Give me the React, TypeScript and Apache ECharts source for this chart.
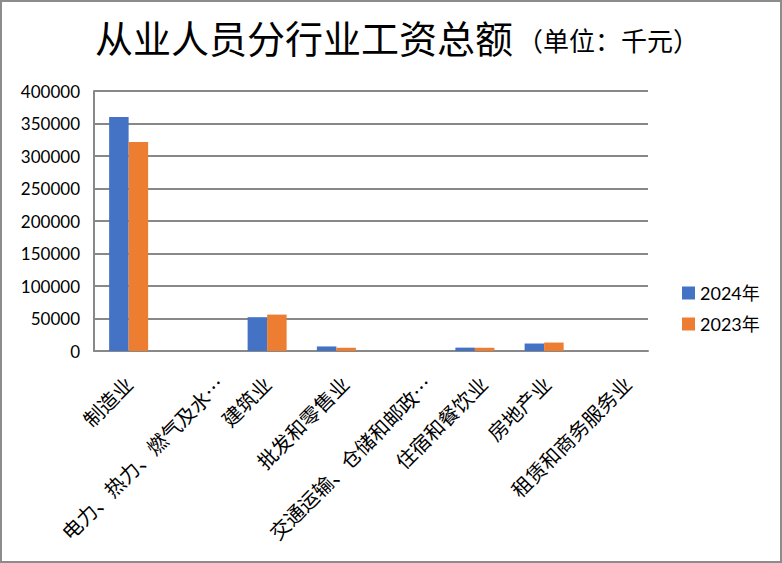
import { useEffect, useRef } from 'react';
import * as echarts from 'echarts';

const categories = [
  '制造业',
  '电力、热力、燃气及水生产和供应业',
  '建筑业',
  '批发和零售业',
  '交通运输、仓储和邮政业',
  '住宿和餐饮业',
  '房地产业',
  '租赁和商务服务业',
];
const values2024 = [360000, 0, 52000, 7000, 0, 5200, 11500, 0];
const values2023 = [321500, 0, 56000, 5000, 0, 5000, 13000, 0];
const yTicks = { min: 0, max: 400000, interval: 50000 };

const CJK = '"Noto Sans CJK SC", sans-serif';
const NUM = 'Lato, "Noto Sans CJK SC", sans-serif';

// Excel nudges longer rotated labels to the right; mimic that with padding per label length
const labelRich: Record<string, any> = {};
for (let n = 1; n <= 12; n++) {
  const shift = 2.8 * (n - 3);
  const common = 24;
  labelRich['r' + n] = {
    fontFamily: CJK,
    fontSize: 20,
    color: '#000',
    padding: [Math.max(0, (shift + common) / 0.708), Math.max(0, (common - shift) / 1.414), 0, 0],
  };
}

export default function App() {
  const chartRef = useRef<HTMLDivElement>(null);

  useEffect(() => {
    if (!chartRef.current) return;
    const chart = echarts.init(chartRef.current, undefined, { renderer: 'svg' });

    const option = {
      animation: false,
      backgroundColor: '#fff',
      title: {
        text: '{a|从业人员分行业工资总额}{b|（单位：千元）}',
        left: 90,
        top: 12,
        textStyle: {
          rich: {
            a: { fontFamily: CJK, fontSize: 38, color: '#000', fontWeight: 'normal' },
            b: { fontFamily: CJK, fontSize: 26, color: '#000', fontWeight: 'normal', padding: [6, 0, 0, 4] },
          },
        },
      },
      legend: {
        orient: 'vertical',
        left: 677,
        top: 279,
        itemWidth: 13,
        itemHeight: 13,
        itemGap: 13,
        icon: 'rect',
        textStyle: { fontFamily: NUM, fontSize: 18, color: '#000' },
        data: ['2024年', '2023年'],
      },
      grid: { left: 94, right: 134, top: 91, bottom: 212, containLabel: false },
      xAxis: {
        type: 'category',
        data: categories,
        axisLine: { lineStyle: { color: '#888', width: 2 } },
        axisTick: { show: false },
        axisLabel: {
          rotate: 45,
          interval: 0,
          margin: 5,
          fontFamily: CJK,
          fontSize: 20,
          color: '#000',
          rich: labelRich,
          formatter: (v: string) => {
            const t = v.length > 10 ? v.slice(0, 10) + '…' : v;
            return '{r' + t.length + '|' + t + '}';
          },
        },
      },
      yAxis: {
        type: 'value',
        min: yTicks.min,
        max: yTicks.max,
        interval: yTicks.interval,
        axisLine: { show: true, lineStyle: { color: '#888', width: 2 } },
        axisTick: { show: false },
        axisLabel: {
          fontFamily: NUM,
          fontSize: 17,
          color: '#000',
          margin: 14,
          formatter: (v: number) => String(v),
        },
        splitLine: { lineStyle: { color: '#888', width: 2 } },
      },
      series: [
        {
          name: '2024年',
          type: 'bar',
          data: values2024,
          barWidth: 19.5,
          barGap: '0%',
          itemStyle: { color: '#4472C4' },
        },
        {
          name: '2023年',
          type: 'bar',
          data: values2023,
          barWidth: 19.5,
          barGap: '0%',
          itemStyle: { color: '#ED7D31' },
        },
      ],
    };

    chart.setOption(option);
    return () => {
      chart.dispose();
    };
  }, []);

  return (
    <div style={{ position: 'absolute', left: 0, top: 0, width: 782, height: 563 }}>
      <div ref={chartRef} style={{ width: 782, height: 563 }} />
      <div
        style={{
          position: 'absolute',
          left: 0,
          top: 0,
          width: 782,
          height: 563,
          boxSizing: 'border-box',
          border: '2px solid #8c8c8c',
          pointerEvents: 'none',
        }}
      />
    </div>
  );
}
